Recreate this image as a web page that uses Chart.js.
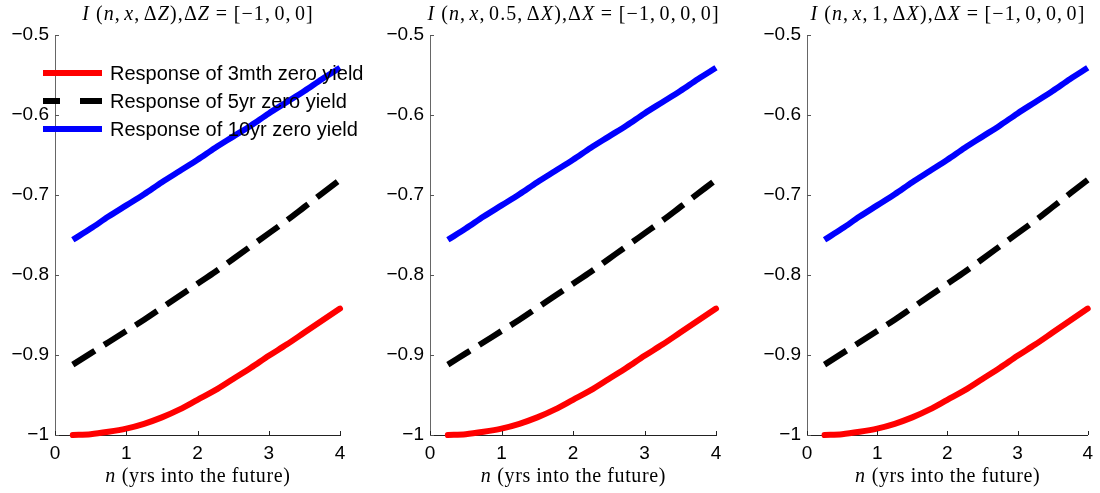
<!DOCTYPE html>
<html><head><meta charset="utf-8">
<script src="https://cdn.jsdelivr.net/npm/chart.js@4"></script>
<style>
html,body{margin:0;padding:0;background:#fff;}
#wrap{position:relative;width:1100px;height:493px;overflow:hidden;}
.c{position:absolute;left:0;top:0;width:1100px;height:493px;pointer-events:none;}
</style>
</head><body>
<div id="wrap">
<div class="c"><canvas id="c0"></canvas></div>
<div class="c"><canvas id="c1"></canvas></div>
<div class="c"><canvas id="c2"></canvas></div>
</div>
<script>
// ---- data ----
const years = [0.25,0.5,0.75,1,1.25,1.5,1.75,2,2.25,2.5,2.75,3,3.25,3.5,3.75,4];
const resp3mth = [-1.000,-0.999,-0.996,-0.992,-0.986,-0.978,-0.968,-0.956,-0.944,-0.930,-0.916,-0.901,-0.887,-0.872,-0.857,-0.842];
const resp5yr  = [-0.912,-0.898,-0.884,-0.870,-0.856,-0.841,-0.826,-0.811,-0.796,-0.780,-0.764,-0.748,-0.732,-0.715,-0.698,-0.681];
const resp10yr = [-0.756,-0.742,-0.727,-0.713,-0.699,-0.684,-0.670,-0.656,-0.641,-0.627,-0.613,-0.598,-0.584,-0.570,-0.555,-0.541];
const seriesLabels = ['Response of 3mth zero yield','Response of 5yr zero yield','Response of 10yr zero yield'];
const xTicks = [0,1,2,3,4];
const yTicks = [-1,-0.9,-0.8,-0.7,-0.6,-0.5];
// title segments: [text, italic]  or a number = extra math gap (em)
const panelTitles = [
  [['I',1],0.3,['(',0],['n',1],[',',0],0.17,['x',1],[',',0],0.17,['Δ',0],['Z',1],[')',0],[',',0],['Δ',0],['Z',1],0.28,['=',0],0.28,['[−1,',0],0.17,['0,',0],0.17,['0]',0]],
  [['I',1],0.3,['(',0],['n',1],[',',0],0.17,['x',1],[',',0],0.17,['0.5,',0],0.17,['Δ',0],['X',1],[')',0],[',',0],['Δ',0],['X',1],0.28,['=',0],0.28,['[−1,',0],0.17,['0,',0],0.17,['0,',0],0.17,['0]',0]],
  [['I',1],0.3,['(',0],['n',1],[',',0],0.17,['x',1],[',',0],0.17,['1,',0],0.17,['Δ',0],['X',1],[')',0],[',',0],['Δ',0],['X',1],0.28,['=',0],0.28,['[−1,',0],0.17,['0,',0],0.17,['0,',0],0.17,['0]',0]]
];
const xLabel = [['n',1],0.3,['(yrs into the future)',0]];

// ---- layout / style ----
const panels = [{left:55,right:340},{left:430,right:716},{left:807,right:1092}];
const TOP = 35, BOTTOM = 435, W = 1100, H = 493;
const SERIF = '"Liberation Serif", "DejaVu Serif", serif';
const SANS = '"Liberation Sans", Arial, sans-serif';

function drawSegs(ctx, segs, cx, baseline, size, spacing){
  const fonts = [`${size}px ${SERIF}`, `italic ${size}px ${SERIF}`];
  const items = [];
  segs.forEach(s=>{
    if(typeof s === 'number'){ items.push({gap:s*size}); return; }
    ctx.font = fonts[s[1]];
    for(const ch of s[0]){ items.push({ch:ch, f:fonts[s[1]], w:ctx.measureText(ch).width}); }
  });
  let total = 0;
  items.forEach((it,i)=>{ total += it.gap!==undefined ? it.gap : it.w + (i<items.length-1?spacing:0); });
  let x = cx - total/2;
  ctx.textAlign='left'; ctx.textBaseline='alphabetic'; ctx.fillStyle='#000';
  items.forEach(it=>{
    if(it.gap!==undefined){ x += it.gap; return; }
    ctx.font = it.f; ctx.fillText(it.ch, x, baseline); x += it.w + spacing;
  });
}

function makeDecor(idx){
  return {
    id:'decor'+idx,
    afterDraw(chart){
      const ctx = chart.ctx, ca = chart.chartArea;
      const xs = chart.scales.x, ys = chart.scales.y;
      ctx.save();
      // inward tick marks
      ctx.lineWidth = 1;
      ctx.strokeStyle = '#555';
      yTicks.forEach(v=>{const p=Math.round(ys.getPixelForValue(v))+0.5; ctx.beginPath(); ctx.moveTo(ca.left,p); ctx.lineTo(ca.left+4,p); ctx.stroke();});
      ctx.strokeStyle = '#222';
      xTicks.forEach(v=>{const p=Math.round(xs.getPixelForValue(v))+0.5; ctx.beginPath(); ctx.moveTo(p,ca.bottom); ctx.lineTo(p,ca.bottom-4); ctx.stroke();});
      // title and x label
      const cx = (ca.left+ca.right)/2;
      drawSegs(ctx, panelTitles[idx], cx, 20, 20, 1.1);
      drawSegs(ctx, xLabel, cx, 482, 20, 0.6);
      // legend (first panel only)
      if(idx===0){
        const rows=[73,101,129];
        const styles=[{c:'#ff0000'},{c:'#000000',d:true},{c:'#0000ff'}];
        rows.forEach((ry,i)=>{
          ctx.strokeStyle=styles[i].c; ctx.lineWidth=6; ctx.lineCap='butt';
          ctx.beginPath();
          if(styles[i].d){ctx.moveTo(43,ry);ctx.lineTo(60,ry);ctx.moveTo(80,ry);ctx.lineTo(102,ry);}
          else {ctx.moveTo(43,ry);ctx.lineTo(102,ry);}
          ctx.stroke();
          ctx.fillStyle='#000'; ctx.font=`20px ${SANS}`; ctx.textAlign='left'; ctx.textBaseline='alphabetic';
          ctx.fillText(seriesLabels[i],110,ry+7);
        });
      }
      ctx.restore();
    }
  };
}

function pts(arr){ return years.map((x,i)=>({x:x,y:arr[i]})); }

panels.forEach((p,idx)=>{
  new Chart(document.getElementById('c'+idx), {
    type:'line',
    data:{datasets:[
      {label:seriesLabels[0],data:pts(resp3mth),borderColor:'#ff0000',borderWidth:6,pointRadius:0,cubicInterpolationMode:'monotone',clip:false,borderCapStyle:'round'},
      {label:seriesLabels[1],data:pts(resp5yr),borderColor:'#000000',borderWidth:6,borderDash:[26,11],pointRadius:0,cubicInterpolationMode:'monotone',clip:false},
      {label:seriesLabels[2],data:pts(resp10yr),borderColor:'#0000ff',borderWidth:6,pointRadius:0,cubicInterpolationMode:'monotone',clip:false}
    ]},
    options:{
      responsive:true, maintainAspectRatio:false, animation:false, devicePixelRatio:1,
      events:[],
      layout:{padding:{left:p.left-55,right:W-p.right,top:TOP,bottom:0}},
      plugins:{legend:{display:false},title:{display:false},tooltip:{enabled:false}},
      scales:{
        x:{type:'linear',min:0,max:4,
          afterBuildTicks:s=>{s.ticks=xTicks.map(v=>({value:v}));},
          afterFit:s=>{s.height=H-BOTTOM;},
          grid:{display:true,drawOnChartArea:false,drawTicks:false},
          border:{display:true,color:'#222',width:1},
          ticks:{padding:7,color:'#000',font:{family:SANS,size:19},maxRotation:0,callback:v=>String(v)}
        },
        y:{type:'linear',min:-1,max:-0.5,
          afterBuildTicks:s=>{s.ticks=yTicks.map(v=>({value:v}));},
          afterFit:s=>{s.width=55;},
          grid:{display:true,drawOnChartArea:false,drawTicks:false},
          border:{display:true,color:'#666',width:1},
          ticks:{padding:6,color:'#000',font:{family:SANS,size:19},callback:v=>(v<0?'−':'')+String(Math.abs(Math.round(v*10)/10))}
        }
      }
    },
    plugins:[makeDecor(idx)]
  });
});
</script>
</body></html>
